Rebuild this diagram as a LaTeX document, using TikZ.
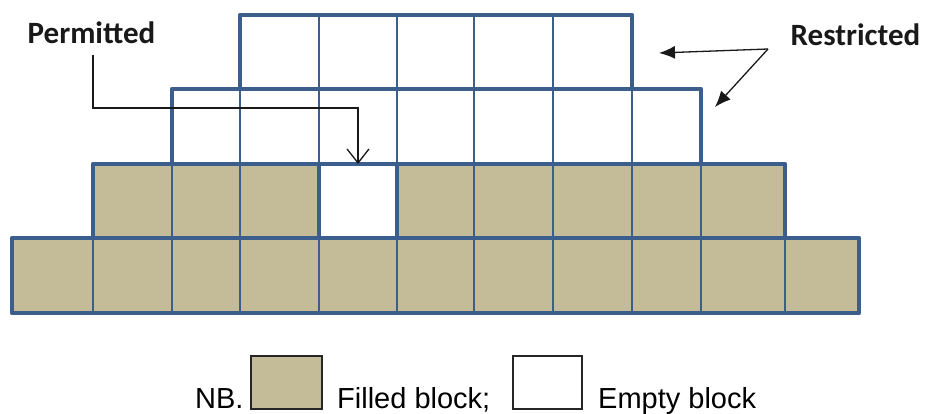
\documentclass[tikz,border=0pt]{standalone}
\usepackage{fontspec}
\setmainfont{Liberation Sans}
\newfontfamily\labelfont{Carlito}
\usetikzlibrary{arrows.meta,calc}
\definecolor{gridblue}{RGB}{59,94,140}
\definecolor{blockfill}{RGB}{196,188,152}
\definecolor{labelink}{RGB}{25,25,25}

% x positions of the block boundaries, left to right
\def\blockxs{{12,93,172,240,319,397,474,553,632,701,785,859}}

% \blockcell{name}{column}{top y}{bottom y}{style}
\newcommand\blockcell[5]{%
  \pgfmathsetmacro\cxa{\blockxs[#2]}%
  \pgfmathsetmacro\cxb{\blockxs[#2+1]}%
  \node[#5, minimum width={(\cxb-\cxa)*1pt}, minimum height={(#4-#3)*1pt}]
    (#1) at ({(\cxa+\cxb)/2},{(#3+#4)/2}) {};%
}

\begin{document}
\begin{tikzpicture}[x=1pt,y=-1pt,
  cellbase/.style={draw=gridblue, line width=2.6pt, inner sep=0pt, outer sep=0pt, line join=round},
  filledcell/.style={cellbase, fill=blockfill},
  emptycell/.style={cellbase, fill=white},
  rowedge/.style={draw=gridblue, line width=4.2pt, line join=round},
  tag/.style={font=\labelfont\bfseries\fontsize{31}{36}\selectfont, text=labelink, inner sep=0pt},
  keytext/.style={font=\fontsize{29}{34}\selectfont, inner sep=0pt, anchor=base west},
  keybox/.style={draw=black!85, line width=1.8pt, inner sep=0pt, minimum width=71pt, minimum height=53pt},
  pointer/.style={draw=labelink, line width=1.3pt},
]
\useasboundingbox (0,0) rectangle (928,414);

% bottom row: all filled
\foreach \i in {0,...,10} {\blockcell{r1-\i}{\i}{238}{313}{filledcell}}
% second row: filled, one gap
\foreach \i in {1,2,3,5,6,7,8,9} {\blockcell{r2-\i}{\i}{164}{238}{filledcell}}
% third and top rows: empty blocks
\foreach \i in {2,...,8} {\blockcell{r3-\i}{\i}{89}{164}{emptycell}}
\foreach \i in {3,...,7} {\blockcell{r4-\i}{\i}{15}{89}{emptycell}}

% heavier outline round each row
\draw[rowedge] (r1-0.north west) rectangle (r1-10.south east);
\draw[rowedge] (r2-1.north west) rectangle (r2-9.south east);
\draw[rowedge] (r3-2.north west) rectangle (r3-8.south east);
\draw[rowedge] (r4-3.north west) rectangle (r4-7.south east);

% the empty block in the second row
\blockcell{r2-4}{4}{164}{238}{emptycell, line width=4.2pt}

% labels
\node[tag] (permitted) at (91.5,33) {Permitted};
\node[tag] (restricted) at (855.5,35) {Restricted};

% permitted pointer
\coordinate (pstart) at (93,55);
\coordinate (pbend) at (93,108);
\draw[pointer, -{Straight Barb[length=14pt, width=22pt, line width=1.3pt]}]
  (pstart) -- (pbend) -| (r2-4.north);

% restricted pointers
\coordinate (rfork) at (768,49);
\coordinate (rtop) at (659,53);
\coordinate (rside) at (715,107);
\draw[pointer, -{Latex[length=16pt, width=13pt]}] (rfork) -- (rtop);
\draw[pointer, -{Latex[length=16pt, width=13pt]}] (rfork) -- (rside);

% key
\node[keytext] (nb) at (195,408) {NB.};
\node[keybox, fill=blockfill] (filledkey) at (286.5,382.5) {};
\node[keytext] (filledtext) at (337,408) {Filled block;};
\node[keybox, fill=white, minimum width=69pt] (emptykey) at (547.5,382.5) {};
\node[keytext] (emptytext) at (598,408) {Empty block};
\end{tikzpicture}
\end{document}
